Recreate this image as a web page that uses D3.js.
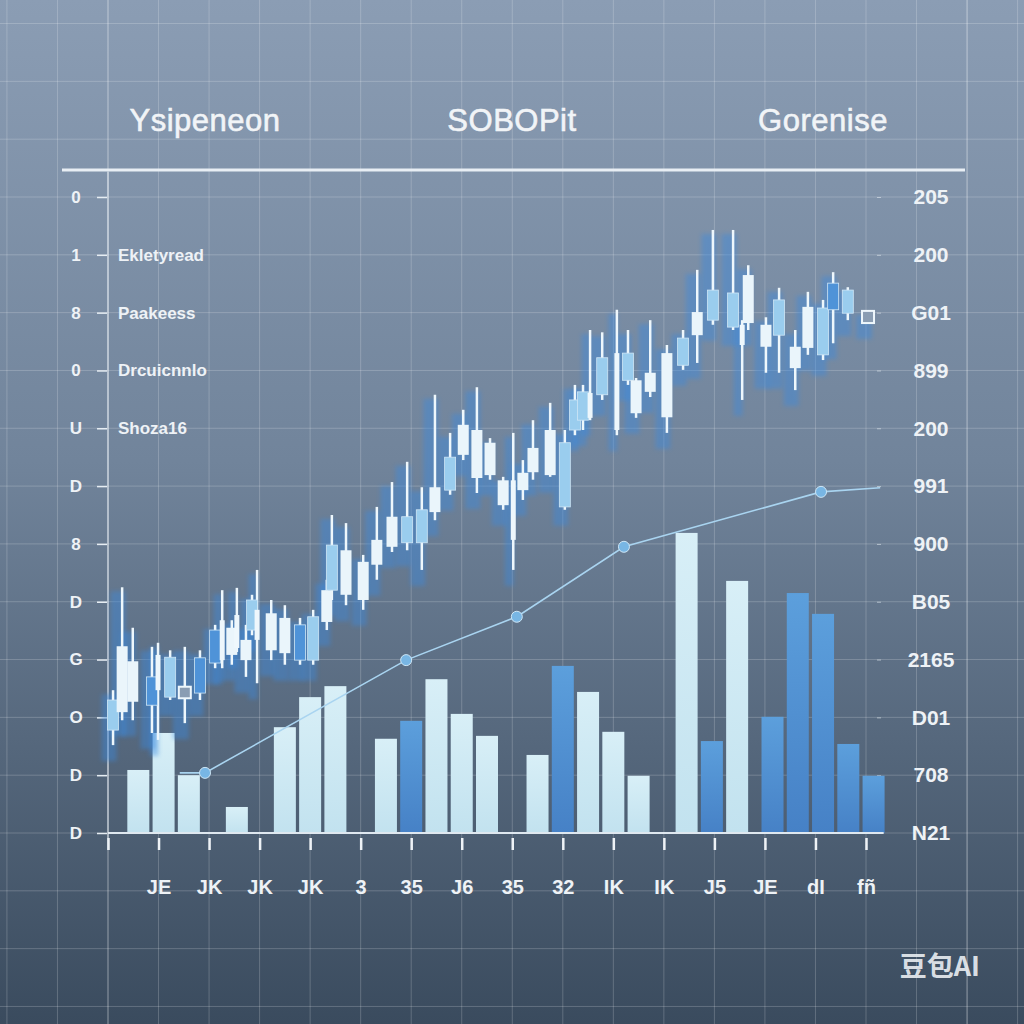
<!DOCTYPE html>
<html>
<head>
<meta charset="utf-8">
<script src="https://cdn.jsdelivr.net/npm/d3@7"></script>
<style>
  html, body { margin: 0; padding: 0; background: #6c7e93; }
  svg { display: block; }
</style>
</head>
<body>
<div id="chart"></div>
<script>
// titles and axis labels (as printed in the picture)
var titles = ["Ysipeneon", "SOBOPit", "Gorenise"];
var legendNames = ["Ekletyread", "Paakeess", "Drcuicnnlo", "Shoza16"];
var leftLabels = ["D", "D", "O", "G", "D", "8", "D", "U", "0", "8", "1", "0"];   // bottom to top
var rightLabels = ["N21", "708", "D01", "2165", "B05", "900", "991", "200", "899", "G01", "200", "205"];
var xLabels = ["", "JE", "JK", "JK", "JK", "3", "35", "J6", "35", "32", "IK", "IK", "J5", "JE", "dI", "fñ"];

// bar series: position (days) and value
var barDays = [6, 11, 16, 25.5, 35, 40, 45, 55, 60, 65, 70, 75, 85, 90, 95, 100, 105, 114.5, 119.5, 124.5, 131.5, 136.5, 141.5, 146.5, 151.5];
var barValues = [10.9, 17.3, 10.0, 4.5, 18.3, 23.5, 25.4, 16.3, 19.4, 26.6, 20.6, 16.8, 13.5, 28.9, 24.4, 17.5, 9.9, 51.9, 15.9, 43.6, 20.1, 41.5, 37.9, 15.4, 9.9];
var barTone = ["l","l","l","l","l","l","l","l","b","l","l","l","l","b","l","l","l","l","b","l","b","b","b","b","b"];

// line series
var lineDays = [14.2, 19.2, 59.0, 80.9, 102.1, 141.1, 152.8];
var lineValues = [10.4, 10.4, 29.9, 37.4, 49.5, 59.0, 59.7];
var lineMarked = [false, true, true, true, true, true, false];

// candles: [day, bodyTop, bodyBottom, high, low, tone]
var candles = [
  [1.0, 23.0, 17.8, 24.7, 15.2, "l"],
  [2.8, 32.3, 20.9, 42.5, 19.5, "w"],
  [4.9, 29.7, 22.7, 35.5, 19.5, "w"],
  [8.7, 27.0, 22.1, 32.2, 17.3, "b"],
  [9.9, 30.8, 24.7, 32.9, 16.1, "n"],
  [12.3, 30.4, 23.5, 31.6, 23.0, "l"],
  [15.2, 25.3, 23.3, 32.2, 19.0, "x"],
  [18.2, 30.3, 24.2, 31.6, 23.0, "b"],
  [21.2, 35.1, 29.4, 36.0, 28.5, "b"],
  [22.6, 36.8, 29.9, 42.0, 28.5, "n"],
  [24.5, 35.5, 30.8, 36.8, 29.1, "w"],
  [25.5, 37.7, 32.0, 42.4, 31.3, "n"],
  [27.3, 33.4, 29.9, 36.0, 27.0, "w"],
  [28.5, 40.3, 35.1, 41.2, 34.2, "l"],
  [29.5, 38.6, 33.4, 45.5, 25.9, "n"],
  [32.3, 38.0, 31.6, 40.3, 29.9, "w"],
  [35.0, 37.2, 31.1, 39.4, 29.1, "w"],
  [38.0, 36.0, 29.9, 37.2, 29.1, "b"],
  [40.6, 37.4, 29.9, 38.6, 29.1, "l"],
  [43.3, 42.0, 36.5, 43.8, 35.1, "w"],
  [44.3, 49.8, 42.0, 55.0, 40.3, "l"],
  [47.1, 48.9, 41.2, 53.6, 39.4, "w"],
  [50.5, 46.9, 40.3, 48.1, 38.6, "w"],
  [53.2, 50.7, 46.4, 56.4, 43.8, "w"],
  [56.2, 54.7, 49.5, 60.7, 48.6, "w"],
  [59.2, 54.7, 50.2, 64.2, 48.9, "l"],
  [62.1, 55.9, 50.2, 59.8, 45.5, "l"],
  [64.7, 59.8, 55.5, 75.8, 54.1, "w"],
  [67.7, 65.0, 59.3, 69.2, 58.5, "l"],
  [70.3, 70.6, 65.4, 73.2, 64.5, "w"],
  [73.0, 69.7, 61.4, 77.1, 58.8, "w"],
  [75.6, 67.5, 61.9, 68.3, 61.1, "w"],
  [78.2, 61.0, 56.7, 61.6, 55.9, "w"],
  [80.2, 61.0, 50.7, 69.2, 45.5, "n"],
  [82.1, 62.3, 59.3, 64.5, 57.6, "w"],
  [84.1, 66.6, 62.4, 71.4, 61.1, "w"],
  [87.5, 69.7, 61.9, 74.4, 61.6, "w"],
  [90.4, 67.5, 56.4, 69.7, 55.9, "l"],
  [92.4, 74.9, 69.7, 77.5, 68.8, "l"],
  [94.0, 76.3, 71.4, 77.5, 69.7, "l"],
  [95.4, 76.1, 71.8, 87.0, 71.4, "n"],
  [97.8, 82.2, 75.8, 86.6, 74.9, "l"],
  [100.7, 83.0, 69.7, 90.5, 68.8, "n"],
  [102.9, 83.0, 78.3, 87.0, 77.5, "l"],
  [104.5, 78.3, 72.6, 78.7, 71.8, "w"],
  [107.3, 79.6, 76.3, 88.7, 75.4, "w"],
  [110.6, 83.0, 71.9, 84.4, 69.2, "w"],
  [113.8, 85.6, 80.9, 87.0, 80.1, "l"],
  [116.6, 90.1, 86.1, 97.4, 81.3, "w"],
  [119.7, 93.9, 88.7, 104.3, 87.9, "l"],
  [123.7, 93.4, 87.5, 104.3, 87.0, "l"],
  [125.5, 87.9, 84.4, 88.7, 74.9, "n"],
  [126.7, 96.5, 88.2, 98.2, 87.0, "w"],
  [130.2, 87.9, 84.1, 89.2, 79.6, "w"],
  [132.8, 92.2, 86.1, 94.3, 79.6, "l"],
  [136.0, 84.1, 80.4, 87.0, 76.6, "w"],
  [138.5, 91.0, 83.9, 93.6, 82.7, "w"],
  [141.5, 90.8, 82.7, 92.2, 81.8, "l"],
  [143.5, 95.1, 90.5, 97.0, 84.7, "b"],
  [146.4, 93.9, 89.9, 94.4, 88.7, "l"],
  [150.4, 90.3, 88.2, 90.3, 88.2, "x"]
];

var width = 1024, height = 1024;

var svg = d3.select("#chart").append("svg")
    .attr("width", width)
    .attr("height", height);

var defs = svg.append("defs");

var bg = defs.append("linearGradient")
    .attr("id", "bg").attr("x1", 0).attr("y1", 0).attr("x2", 0).attr("y2", 1);
bg.append("stop").attr("offset", "0%").attr("stop-color", "#8b9db4");
bg.append("stop").attr("offset", "45%").attr("stop-color", "#71849b");
bg.append("stop").attr("offset", "100%").attr("stop-color", "#3a4b5e");

var lightGrad = defs.append("linearGradient")
    .attr("id", "lightBar").attr("x1", 0).attr("y1", 0).attr("x2", 0).attr("y2", 1);
lightGrad.append("stop").attr("offset", "0%").attr("stop-color", "#d8eff7");
lightGrad.append("stop").attr("offset", "100%").attr("stop-color", "#c2e2ef");

var blueGrad = defs.append("linearGradient")
    .attr("id", "blueBar").attr("x1", 0).attr("y1", 0).attr("x2", 0).attr("y2", 1);
blueGrad.append("stop").attr("offset", "0%").attr("stop-color", "#5c9fdc");
blueGrad.append("stop").attr("offset", "100%").attr("stop-color", "#4681c6");

defs.append("filter").attr("id", "blur")
    .attr("x", "-100%").attr("y", "-50%").attr("width", "300%").attr("height", "200%")
  .append("feGaussianBlur").attr("stdDeviation", 2.2);

svg.append("rect")
    .attr("width", width).attr("height", height)
    .attr("fill", "url(#bg)");

// scales: days along x, values up the left side
var xScale = d3.scaleLinear().domain([0, 150]).range([108, 866]);
var yScale = d3.scaleLinear().domain([0, 110]).range([833, 197]);

// page grid
svg.append("g").selectAll("line")
    .data(d3.range(-20, 181, 10))
    .enter().append("line")
    .attr("x1", d => xScale(d)).attr("x2", d => xScale(d))
    .attr("y1", 0).attr("y2", height)
    .attr("stroke", "#ffffff")
    .attr("stroke-opacity", d => (d == 0 || d == 170) ? 0.45 : 0.2)
    .attr("stroke-width", 1);

svg.append("g").selectAll("line")
    .data(d3.range(-30, 141, 10))
    .enter().append("line")
    .attr("x1", 0).attr("x2", width)
    .attr("y1", d => yScale(d)).attr("y2", d => yScale(d))
    .attr("stroke", "#ffffff")
    .attr("stroke-opacity", 0.2)
    .attr("stroke-width", 1);

// titles
svg.append("g").selectAll("text")
    .data(titles)
    .enter().append("text")
    .attr("x", (d, i) => [205, 512, 823][i])
    .attr("y", 131)
    .attr("text-anchor", "middle")
    .attr("font-family", "Liberation Sans, Arial, sans-serif")
    .attr("font-size", 31)
    .attr("letter-spacing", 0.5)
    .attr("stroke", "#f1f4f7")
    .attr("stroke-width", 0.6)
    .attr("fill", "#f1f4f7")
    .text(d => d);

svg.append("line")
    .attr("x1", 62).attr("x2", 965)
    .attr("y1", 170).attr("y2", 170)
    .attr("stroke", "#e8eef4")
    .attr("stroke-width", 3);

// left axis
var leftAxis = d3.axisLeft(yScale)
    .tickValues(d3.range(0, 111, 10))
    .tickSize(10)
    .tickFormat((d, i) => leftLabels[i]);

var gLeft = svg.append("g")
    .attr("transform", "translate(107,0)")
    .call(leftAxis);
gLeft.select(".domain").remove();
gLeft.selectAll(".tick line").attr("stroke", "#e6edf3").attr("stroke-width", 1.5);
gLeft.selectAll(".tick text")
    .attr("x", -31)
    .attr("text-anchor", "middle")
    .attr("font-family", "Liberation Sans, Arial, sans-serif")
    .attr("font-weight", "bold")
    .attr("font-size", 17)
    .attr("fill", "#eef2f6");

// legend names next to the upper ticks
svg.append("g").selectAll("text")
    .data(legendNames)
    .enter().append("text")
    .attr("x", 118)
    .attr("y", (d, i) => yScale(100 - i * 10) + 6)
    .attr("font-family", "Liberation Sans, Arial, sans-serif")
    .attr("font-weight", "bold")
    .attr("font-size", 17)
    .attr("fill", "#eef2f6")
    .text(d => d);

// right axis
var rightAxis = d3.axisRight(yScale)
    .tickValues(d3.range(0, 111, 10))
    .tickSize(4)
    .tickFormat((d, i) => rightLabels[i]);

var gRight = svg.append("g")
    .attr("transform", "translate(877,0)")
    .call(rightAxis);
gRight.select(".domain").remove();
gRight.selectAll(".tick line").attr("stroke", "#dfe7ee").attr("stroke-opacity", 0.6);
gRight.selectAll(".tick text")
    .attr("x", 54)
    .attr("text-anchor", "middle")
    .attr("font-family", "Liberation Sans, Arial, sans-serif")
    .attr("font-weight", "bold")
    .attr("font-size", 21)
    .attr("fill", "#eef2f6");

// bottom axis
var bottomAxis = d3.axisBottom(xScale)
    .tickValues(d3.range(0, 151, 10))
    .tickSize(12)
    .tickPadding(30)
    .tickFormat((d, i) => xLabels[i]);

var gBottom = svg.append("g")
    .attr("transform", "translate(0,838)")
    .call(bottomAxis);
gBottom.select(".domain").remove();
gBottom.selectAll(".tick line").attr("stroke", "#eef2f6").attr("stroke-width", 2.5);
gBottom.selectAll(".tick text")
    .attr("font-family", "Liberation Sans Narrow, Liberation Sans, Arial, sans-serif")
    .attr("font-weight", "bold")
    .attr("font-size", 20)
    .attr("fill", "#eef2f6");

// bars
var barWidth = 22;
svg.append("g").selectAll("rect")
    .data(barValues)
    .enter().append("rect")
    .attr("x", (d, i) => xScale(barDays[i]) - barWidth / 2)
    .attr("y", d => yScale(d))
    .attr("width", barWidth)
    .attr("height", d => yScale(0) - yScale(d))
    .attr("fill", (d, i) => barTone[i] == "b" ? "url(#blueBar)" : "url(#lightBar)");

// baseline and left axis line
svg.append("line")
    .attr("x1", xScale(0)).attr("x2", xScale(153.5))
    .attr("y1", yScale(0)).attr("y2", yScale(0))
    .attr("stroke", "#dfe8f0")
    .attr("stroke-width", 2);
svg.append("line")
    .attr("x1", xScale(0)).attr("x2", xScale(0))
    .attr("y1", 172).attr("y2", 850)
    .attr("stroke", "#e6edf3")
    .attr("stroke-opacity", 0.6)
    .attr("stroke-width", 1.5);

// line series
var linePts = lineDays.map((d, i) => [xScale(d), yScale(lineValues[i])]);
svg.append("path")
    .attr("d", d3.line()(linePts))
    .attr("fill", "none")
    .attr("stroke", "#a9d4f0")
    .attr("stroke-width", 1.6);

svg.append("g").selectAll("circle")
    .data(linePts.filter((p, i) => lineMarked[i]))
    .enter().append("circle")
    .attr("cx", d => d[0])
    .attr("cy", d => d[1])
    .attr("r", 5.5)
    .attr("fill", "#78b6e4")
    .attr("stroke", "#cde6f6")
    .attr("stroke-width", 1);

// candlesticks
var bodyW = { w: 11, l: 11, b: 11, n: 5, x: 12 };
var bodyFill = { w: "#eaf5fb", l: "#9acdee", b: "#4f93d8", n: "#eef7fc", x: "#8a9db3" };

var gCandle = svg.append("g");

// blue glow behind each candle, leaning left
gCandle.selectAll("rect.glow")
    .data(candles)
    .enter().append("rect")
    .attr("class", "glow")
    .attr("x", d => xScale(d[0]) - bodyW[d[5]] / 2 - 6)
    .attr("y", d => yScale(d[3]) + 4)
    .attr("width", d => bodyW[d[5]] + 4)
    .attr("height", d => yScale(d[4]) - yScale(d[3]) + 12)
    .attr("fill", "#3b8ae0")
    .attr("opacity", 0.42)
    .attr("filter", "url(#blur)");

gCandle.selectAll("line.wick")
    .data(candles)
    .enter().append("line")
    .attr("class", "wick")
    .attr("x1", d => xScale(d[0])).attr("x2", d => xScale(d[0]))
    .attr("y1", d => yScale(d[3])).attr("y2", d => yScale(d[4]))
    .attr("stroke", "#eef7fc")
    .attr("stroke-width", 2.5);

gCandle.selectAll("rect.body")
    .data(candles)
    .enter().append("rect")
    .attr("class", "body")
    .attr("x", d => xScale(d[0]) - bodyW[d[5]] / 2)
    .attr("y", d => yScale(d[1]))
    .attr("width", d => bodyW[d[5]])
    .attr("height", d => Math.max(3, yScale(d[2]) - yScale(d[1])))
    .attr("fill", d => bodyFill[d[5]])
    .attr("stroke", d => d[5] == "x" ? "#eef7fc" : (d[5] == "b" || d[5] == "l" ? "#cfe6f6" : "none"))
    .attr("stroke-width", d => d[5] == "x" ? 2 : 0.8);

// watermark
svg.append("text")
    .attr("x", 980).attr("y", 976)
    .attr("text-anchor", "end")
    .attr("font-family", "Noto Sans CJK SC, sans-serif")
    .attr("font-weight", "bold")
    .attr("font-size", 27)
    .attr("fill", "#eef2f6")
    .attr("fill-opacity", 0.9)
    .text("豆包AI");
</script>
</body>
</html>
